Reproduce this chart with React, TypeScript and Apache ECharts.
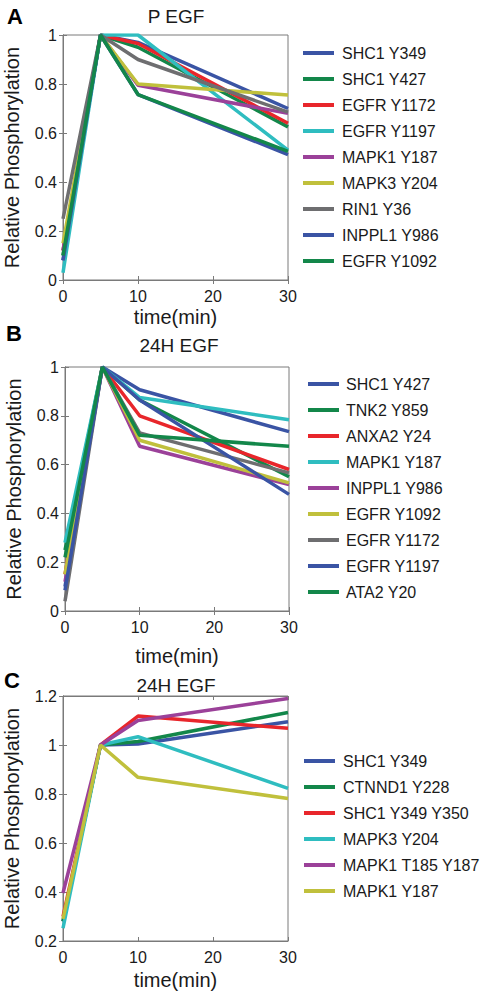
import React, { useEffect, useRef } from "react";
import * as echarts from "echarts";

const times = [0, 5, 10, 30];

const COLORS = {
  blue: "#3a54a4",
  green: "#13874a",
  red: "#e8262b",
  cyan: "#2fbdc0",
  magenta: "#9b4199",
  yellow: "#c0c03c",
  gray: "#6e6e70",
};

// Panel A: P EGF
const namesA = ["SHC1 Y349", "SHC1 Y427", "EGFR Y1172", "EGFR Y1197", "MAPK1 Y187", "MAPK3 Y204", "RIN1 Y36", "INPPL1 Y986", "EGFR Y1092"];
const colorsA = [COLORS.blue, COLORS.green, COLORS.red, COLORS.cyan, COLORS.magenta, COLORS.yellow, COLORS.gray, COLORS.blue, COLORS.green];
const valuesA = [
  [0.08, 1, 0.97, 0.70],
  [0.1, 1, 0.95, 0.625],
  [0.12, 1, 0.965, 0.64],
  [0.03, 1, 1.0, 0.53],
  [0.12, 1, 0.795, 0.68],
  [0.15, 1, 0.8, 0.755],
  [0.25, 1, 0.9, 0.685],
  [0.08, 1, 0.757, 0.512],
  [0.1, 1, 0.757, 0.525],
];

// Panel B: 24H EGF
const namesB = ["SHC1 Y427", "TNK2 Y859", "ANXA2 Y24", "MAPK1 Y187", "INPPL1 Y986", "EGFR Y1092", "EGFR Y1172", "EGFR Y1197", "ATA2 Y20"];
const colorsB = [COLORS.blue, COLORS.green, COLORS.red, COLORS.cyan, COLORS.magenta, COLORS.yellow, COLORS.gray, COLORS.blue, COLORS.green];
const valuesB = [
  [0.1, 1, 0.907, 0.735],
  [0.25, 1, 0.865, 0.55],
  [0.15, 1, 0.8, 0.58],
  [0.28, 1, 0.875, 0.784],
  [0.12, 1, 0.675, 0.518],
  [0.15, 1, 0.7, 0.525],
  [0.04, 1, 0.73, 0.566],
  [0.085, 1, 0.865, 0.478],
  [0.22, 1, 0.72, 0.675],
];

// Panel C: 24H EGF
const namesC = ["SHC1 Y349", "CTNND1 Y228", "SHC1 Y349 Y350", "MAPK3 Y204", "MAPK1 T185 Y187", "MAPK1 Y187"];
const colorsC = [COLORS.blue, COLORS.green, COLORS.red, COLORS.cyan, COLORS.magenta, COLORS.yellow];
const valuesC = [
  [0.28, 1, 1.004, 1.095],
  [0.28, 1, 1.014, 1.133],
  [0.3, 1, 1.118, 1.068],
  [0.252, 1, 1.034, 0.823],
  [0.396, 1, 1.1, 1.19],
  [0.29, 1, 0.868, 0.782],
];

const panelTitles = ["P EGF", "24H EGF", "24H EGF"];
const panelLetters = ["A", "B", "C"];
const xTicks = { min: 0, max: 30, interval: 10 };
const yRanges = [
  { min: 0, max: 1, interval: 0.2 },
  { min: 0, max: 1, interval: 0.2 },
  { min: 0.2, max: 1.2, interval: 0.2 },
];

const FONT = "Liberation Sans, Arial, Helvetica, sans-serif";
const AXIS_COLOR = "#7a7a7a";
const TEXT_COLOR = "#1a1a1a";

export default function App() {
  const ref = useRef<HTMLDivElement>(null);

  useEffect(() => {
    document.body.style.margin = "0";
    if (!ref.current) return;
    const chart = echarts.init(ref.current, null, { renderer: "svg" });

    const grids = [
      { left: 63, top: 35, width: 225, height: 245 },
      { left: 65, top: 367, width: 224, height: 244 },
      { left: 63, top: 696, width: 225, height: 245 },
    ];
    const xNameGaps = [27, 35, 29];
    const legendPos = [
      { left: 303, top: 45, textPad: 3 },
      { left: 308, top: 376, textPad: 2 },
      { left: 304, top: 753, textPad: 3 },
    ];
    const panels = [
      { names: namesA, colors: colorsA, values: valuesA },
      { names: namesB, colors: colorsB, values: valuesB },
      { names: namesC, colors: colorsC, values: valuesC },
    ];

    const xAxis: any[] = [];
    const yAxis: any[] = [];
    const series: any[] = [];
    const legend: any[] = [];
    const graphic: any[] = [];

    panels.forEach((p, gi) => {
      xAxis.push({
        type: "value",
        gridIndex: gi,
        position: "bottom",
        min: xTicks.min,
        max: xTicks.max,
        interval: xTicks.interval,
        name: "time(min)",
        nameLocation: "middle",
        nameGap: xNameGaps[gi],
        nameTextStyle: { fontSize: 20, color: TEXT_COLOR, fontFamily: FONT },
        axisLine: { show: true, lineStyle: { color: AXIS_COLOR, width: 1 } },
        axisTick: { show: true, inside: true, length: 4, lineStyle: { color: AXIS_COLOR } },
        axisLabel: { fontSize: 16, color: TEXT_COLOR, fontFamily: FONT, margin: 8 },
        splitLine: { show: false },
      });
      xAxis.push({
        type: "value",
        gridIndex: gi,
        position: "top",
        min: xTicks.min,
        max: xTicks.max,
        interval: xTicks.interval,
        axisLine: { show: true, lineStyle: { color: AXIS_COLOR, width: 1 } },
        axisTick: { show: true, inside: true, length: 4, lineStyle: { color: AXIS_COLOR } },
        axisLabel: { show: false },
        splitLine: { show: false },
      });
      const yr = yRanges[gi];
      yAxis.push({
        type: "value",
        gridIndex: gi,
        position: "left",
        min: yr.min,
        max: yr.max,
        interval: yr.interval,
        name: "Relative Phosphorylation",
        nameLocation: "middle",
        nameGap: 41,
        nameTextStyle: { fontSize: 20, color: TEXT_COLOR, fontFamily: FONT },
        axisLine: { show: true, lineStyle: { color: AXIS_COLOR, width: 1 } },
        axisTick: { show: true, inside: true, length: 4, lineStyle: { color: AXIS_COLOR } },
        axisLabel: {
          fontSize: 16,
          color: TEXT_COLOR,
          fontFamily: FONT,
          margin: 6,
          formatter: (v: number) => String(Math.round(v * 10) / 10),
        },
        splitLine: { show: false },
      });
      yAxis.push({
        type: "value",
        gridIndex: gi,
        position: "right",
        min: yr.min,
        max: yr.max,
        interval: yr.interval,
        axisLine: { show: true, lineStyle: { color: AXIS_COLOR, width: 1 } },
        axisTick: { show: true, inside: true, length: 4, lineStyle: { color: AXIS_COLOR } },
        axisLabel: { show: false },
        splitLine: { show: false },
      });

      const legendNames: string[] = [];
      p.names.forEach((n, si) => {
        const sname = panelLetters[gi] + "|" + n;
        legendNames.push(sname);
        series.push({
          type: "line",
          name: sname,
          xAxisIndex: gi * 2,
          yAxisIndex: gi * 2,
          data: times.map((t, k) => [t, p.values[si][k]]),
          showSymbol: false,
          symbol: "none",
          color: p.colors[si],
          itemStyle: { color: p.colors[si] },
          lineStyle: { color: p.colors[si], width: 3.5 },
          clip: true,
        });
      });

      legend.push({
        data: legendNames,
        orient: "vertical",
        left: legendPos[gi].left,
        top: legendPos[gi].top,
        padding: 0,
        itemGap: 10,
        itemWidth: 31,
        itemHeight: 4,
        icon: "rect",
        selectedMode: false,
        formatter: (name: string) => name.split("|")[1],
        textStyle: {
          fontSize: 16,
          lineHeight: 16,
          color: TEXT_COLOR,
          fontFamily: FONT,
          padding: [0, 0, 0, legendPos[gi].textPad],
        },
      });
    });

    const titlePos = [
      { x: 176, y: 16 },
      { x: 179, y: 345 },
      { x: 176, y: 685 },
    ];
    const letterPos = [
      { x: 15, y: 16 },
      { x: 14, y: 333 },
      { x: 12, y: 680 },
    ];
    panelTitles.forEach((t, i) => {
      graphic.push({
        type: "text",
        x: titlePos[i].x,
        y: titlePos[i].y,
        style: {
          text: t,
          fill: TEXT_COLOR,
          font: `19px ${FONT}`,
          textAlign: "center",
          textVerticalAlign: "middle",
        },
      });
      graphic.push({
        type: "text",
        x: letterPos[i].x,
        y: letterPos[i].y,
        style: {
          text: panelLetters[i],
          fill: "#000",
          font: `bold 22px ${FONT}`,
          textAlign: "center",
          textVerticalAlign: "middle",
        },
      });
    });

    chart.setOption({
      animation: false,
      backgroundColor: "#ffffff",
      grid: grids.map((g) => ({ ...g, show: true, borderColor: AXIS_COLOR, borderWidth: 1, backgroundColor: "transparent" })),
      xAxis,
      yAxis,
      series,
      legend,
      graphic,
    });

    return () => chart.dispose();
  }, []);

  return <div ref={ref} style={{ width: 488, height: 996 }} />;
}
